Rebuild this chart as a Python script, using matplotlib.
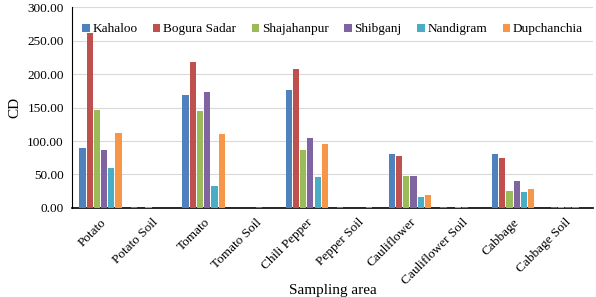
import matplotlib
matplotlib.use("Agg")
import matplotlib.pyplot as plt
import numpy as np

categories = ["Potato", "Potato Soil", "Tomato", "Tomato Soil", "Chili Pepper",
              "Pepper Soil", "Cauliflower", "Cauliflower Soil", "Cabbage", "Cabbage Soil"]
series_names = ["Kahaloo", "Bogura Sadar", "Shajahanpur", "Shibganj", "Nandigram", "Dupchanchia"]

kahaloo = [90, 1.5, 169, 0, 176, 1, 80, 1, 80, 0]
bogura_sadar = [262, 0, 219, 0, 208, 0, 77, 0, 74, 1.5]
shajahanpur = [147, 1, 145, 0, 86, 0, 47, 1, 25, 1.5]
shibganj = [86, 0, 173, 1, 104, 0, 47, 1, 41, 1.5]
nandigram = [60, 0, 33, 0, 46, 1, 16, 0, 24, 1.5]
dupchanchia = [112, 0, 111, 0, 96, 0, 20, 0, 29, 0]

colors = ["#4F81BD", "#C0504D", "#9BBB59", "#8064A2", "#4BACC6", "#F79646"]

plt.rcParams["font.family"] = ["Liberation Serif", "DejaVu Serif"]

fig, ax = plt.subplots(figsize=(5.96, 2.97), dpi=100)
fig.subplots_adjust(left=0.121, right=0.995, top=0.975, bottom=0.30)

x = np.arange(len(categories))
width = 0.12
all_series = [kahaloo, bogura_sadar, shajahanpur, shibganj, nandigram, dupchanchia]
for i, (name, vals) in enumerate(zip(series_names, all_series)):
    offset = (i - 2.5) * (width + 0.02)
    ax.bar(x + offset, vals, width, label=name, color=colors[i], zorder=3)

ax.set_xlim(-0.55, len(categories) - 0.45)
ax.set_ylim(0, 300)
ax.set_yticks(np.arange(0, 301, 50))
ax.set_yticklabels([f"{v:.2f}" for v in np.arange(0, 301, 50)], fontsize=9.5)
ax.set_xticks(x)
ax.set_xticklabels(categories, rotation=45, ha="right", rotation_mode="anchor", fontsize=9.5)
ax.tick_params(axis="x", length=0, pad=6)
ax.tick_params(axis="y", length=0, pad=6)
ax.yaxis.grid(True, color="#D9D9D9", linewidth=0.8, zorder=0)
ax.spines["top"].set_visible(False)
ax.spines["right"].set_visible(False)
ax.spines["left"].set_color("black")
ax.spines["bottom"].set_color("black")
ax.spines["bottom"].set_linewidth(1.2)

ax.set_ylabel("CD", fontsize=11)
ax.set_xlabel("Sampling area", fontsize=11, labelpad=-2)

ax.legend(loc="upper center", ncol=6, frameon=False, fontsize=9.5,
          bbox_to_anchor=(0.5, 0.98), handlelength=0.55, handleheight=0.55,
          handletextpad=0.2, columnspacing=1.2)

fig.savefig("out.png", dpi=100)
